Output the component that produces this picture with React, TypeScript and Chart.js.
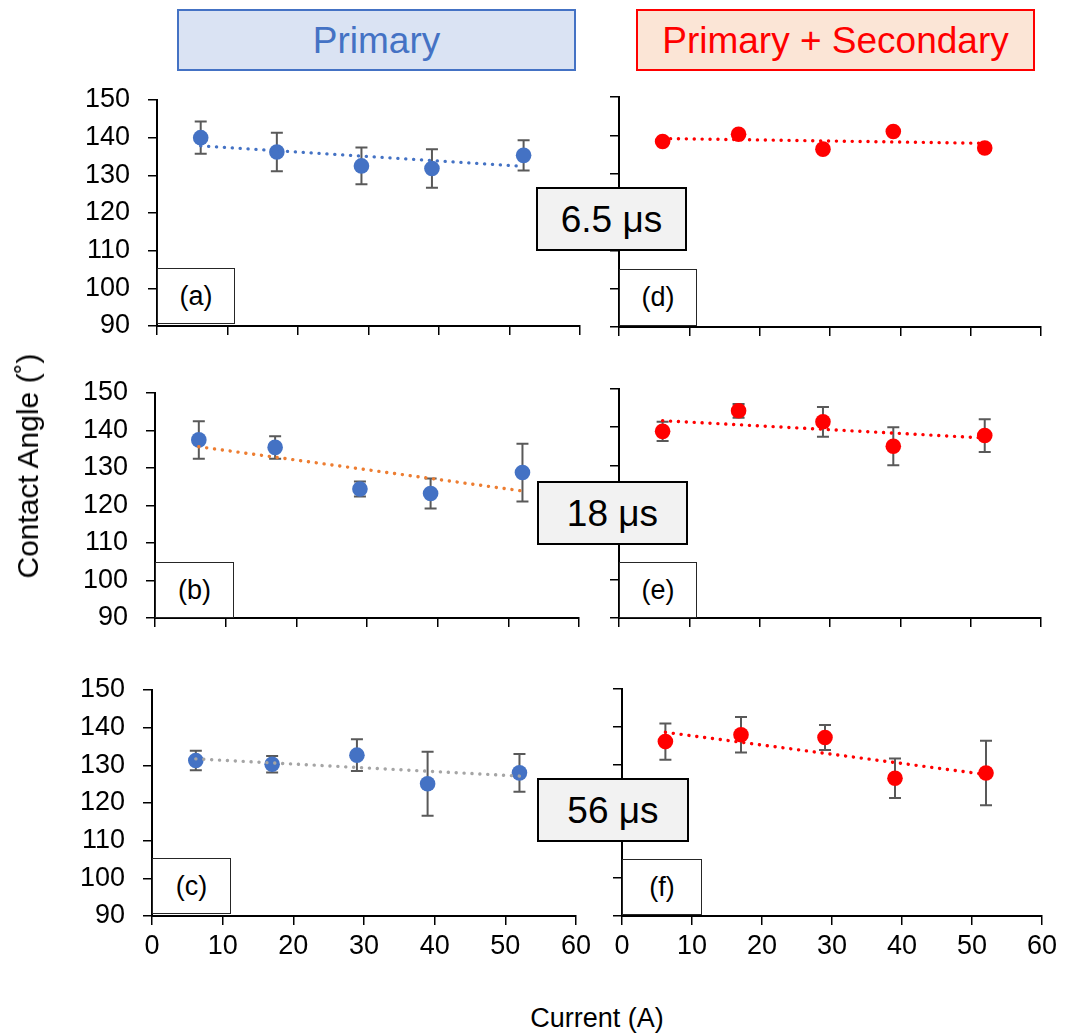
import React, { useEffect, useRef } from "react";
import { Chart, registerables } from "chart.js";

Chart.register(...registerables);

// ---------------- data ----------------
const currentA: number[] = [6.2, 17, 29, 39, 52];
const xTickValues: number[] = [0, 10, 20, 30, 40, 50, 60];
const yTickValues: number[] = [90, 100, 110, 120, 130, 140, 150];

// Primary (left column)
const angleA: number[] = [140.0, 136.2, 132.5, 131.8, 135.3];
const errA: number[] = [4.3, 5.1, 4.9, 5.1, 4.0];
const angleB: number[] = [137.5, 135.5, 124.4, 123.2, 128.8];
const errB: number[] = [5.0, 3.0, 2.0, 4.0, 7.7];
const angleC: number[] = [131.3, 130.3, 132.7, 125.1, 128.0];
const errC: number[] = [2.6, 2.2, 4.2, 8.5, 5.0];
// Primary + Secondary (right column)
const angleD: number[] = [138.4, 140.3, 136.4, 141.0, 136.7];
const errD: number[] = [0.6, 0.6, 0.6, 0.6, 0.6];
const angleE: number[] = [138.9, 144.3, 141.4, 135.0, 137.8];
const errE: number[] = [2.5, 1.8, 3.9, 5.0, 4.3];
const angleF: number[] = [136.1, 137.9, 137.2, 126.4, 127.8];
const errF: number[] = [4.8, 4.7, 3.3, 5.2, 8.5];

const columnTitles: string[] = ["Primary", "Primary + Secondary"];
const pulseLabels: string[] = ["6.5 μs", "18 μs", "56 μs"];
const panelLetters: string[] = ["(a)", "(b)", "(c)", "(d)", "(e)", "(f)"];
const yAxisTitle = "Contact Angle (˚)";
const xAxisTitle = "Current (A)";

// ---------------- styles / layout ----------------
const FONT = "'Liberation Sans', Arial, Helvetica, sans-serif";
const BLUE = "#4472C4";
const ORANGE = "#ED7D31";
const GRAY = "#A5A5A5";
const RED = "#FF0000";
const ERR_COLOR = "#595959";
const TICK_SIZE = 27;

type Rect = { l: number; t: number; r: number; b: number };

const panelSeries = [
  { values: angleA, errors: errA, marker: BLUE, trend: BLUE },
  { values: angleB, errors: errB, marker: BLUE, trend: ORANGE },
  { values: angleC, errors: errC, marker: BLUE, trend: GRAY },
  { values: angleD, errors: errD, marker: RED, trend: RED },
  { values: angleE, errors: errE, marker: RED, trend: RED },
  { values: angleF, errors: errF, marker: RED, trend: RED },
];

const plotRects: Rect[] = [
  { l: 157, t: 100, r: 580, b: 326 },
  { l: 155, t: 393, r: 579, b: 618 },
  { l: 152, t: 690, r: 576, b: 916 },
  { l: 619, t: 97, r: 1041, b: 327 },
  { l: 619, t: 389, r: 1041, b: 618 },
  { l: 622, t: 689, r: 1042, b: 916 },
];

const letterBoxes: Rect[] = [
  { l: 157, t: 268, r: 235, b: 324 },
  { l: 155, t: 562, r: 234, b: 618 },
  { l: 152, t: 858, r: 231, b: 914 },
  { l: 619, t: 269, r: 697, b: 326 },
  { l: 619, t: 562, r: 697, b: 618 },
  { l: 622, t: 859, r: 702, b: 915 },
];

const pulseBoxes: Rect[] = [
  { l: 536, t: 187, r: 687, b: 251 },
  { l: 537, t: 481, r: 688, b: 545 },
  { l: 537, t: 778, r: 689, b: 842 },
];

const TOP_PAD = 20;
const RIGHT_PAD = 25;

function linearFit(xs: number[], ys: number[]) {
  const n = xs.length;
  const mx = xs.reduce((a, b) => a + b, 0) / n;
  const my = ys.reduce((a, b) => a + b, 0) / n;
  let sxy = 0;
  let sxx = 0;
  for (let i = 0; i < n; i++) {
    sxy += (xs[i] - mx) * (ys[i] - my);
    sxx += (xs[i] - mx) * (xs[i] - mx);
  }
  const slope = sxy / sxx;
  return (x: number) => my + slope * (x - mx);
}

const errorBarPlugin = {
  id: "errorBars",
  beforeDatasetsDraw(chart: any) {
    const ctx = chart.ctx;
    const xs = chart.scales.x;
    const ys = chart.scales.y;
    chart.data.datasets.forEach((ds: any) => {
      if (!ds.errorValues) return;
      ds.data.forEach((p: any, i: number) => {
        const e = ds.errorValues[i];
        const px = xs.getPixelForValue(p.x);
        const top = ys.getPixelForValue(p.y + e);
        const bot = ys.getPixelForValue(p.y - e);
        ctx.save();
        ctx.strokeStyle = ERR_COLOR;
        ctx.lineWidth = 2;
        ctx.beginPath();
        ctx.moveTo(px, top);
        ctx.lineTo(px, bot);
        ctx.moveTo(px - 6, top);
        ctx.lineTo(px + 6, top);
        ctx.moveTo(px - 6, bot);
        ctx.lineTo(px + 6, bot);
        ctx.stroke();
        ctx.restore();
      });
    });
  },
};

function zeroPadding(sc: any) {
  sc.paddingTop = 0;
  sc.paddingBottom = 0;
  sc.paddingLeft = 0;
  sc.paddingRight = 0;
}

function Panel({ idx }: { idx: number }) {
  const ref = useRef<HTMLCanvasElement>(null);
  const rect = plotRects[idx];
  const isLeft = idx < 3;
  const isBottom = idx % 3 === 2;
  const canvasLeft = isLeft ? 40 : 600;
  const canvasTop = rect.t - TOP_PAD;
  const yAxisW = rect.l - canvasLeft;
  const xAxisH = isBottom ? 60 : 20;
  const width = rect.r + RIGHT_PAD - canvasLeft;
  const height = TOP_PAD + (rect.b - rect.t) + xAxisH;

  useEffect(() => {
    const s = panelSeries[idx];
    const fit = linearFit(currentA, s.values);
    const x0 = currentA[0];
    const x1 = currentA[currentA.length - 1];
    const chart = new Chart(ref.current as HTMLCanvasElement, {
      type: "scatter",
      data: {
        datasets: [
          {
            type: "line",
            data: [
              { x: x0, y: fit(x0) },
              { x: x1, y: fit(x1) },
            ],
            borderColor: s.trend,
            borderWidth: 3.4,
            borderDash: [0.1, 7.8],
            borderCapStyle: "round",
            pointRadius: 0,
            showLine: true,
            fill: false,
          } as any,
          {
            data: currentA.map((x, i) => ({ x, y: s.values[i] })),
            errorValues: s.errors,
            backgroundColor: s.marker,
            pointBackgroundColor: s.marker,
            pointBorderWidth: 0,
            pointRadius: 7.8,
            pointHoverRadius: 7.8,
          } as any,
        ],
      },
      options: {
        responsive: false,
        animation: false,
        devicePixelRatio: 1,
        events: [],
        layout: { padding: { top: TOP_PAD, right: RIGHT_PAD, left: 0, bottom: 0 } },
        plugins: { legend: { display: false }, tooltip: { enabled: false } },
        scales: {
          x: {
            type: "linear",
            min: xTickValues[0],
            max: xTickValues[xTickValues.length - 1],
            ticks: {
              stepSize: xTickValues[1] - xTickValues[0],
              color: isBottom ? "#000" : "rgba(0,0,0,0)",
              font: { family: FONT, size: TICK_SIZE },
              padding: 5,
              maxRotation: 0,
              autoSkip: false,
            },
            grid: { drawOnChartArea: false, drawTicks: true, tickLength: 9, color: "#000", lineWidth: 1.5 },
            border: { display: true, color: "#000", width: 2 },
            afterFit: (sc: any) => {
              sc.height = xAxisH;
              zeroPadding(sc);
            },
          },
          y: {
            type: "linear",
            min: yTickValues[0],
            max: yTickValues[yTickValues.length - 1],
            ticks: {
              stepSize: yTickValues[1] - yTickValues[0],
              color: isLeft ? "#000" : "rgba(0,0,0,0)",
              font: { family: FONT, size: TICK_SIZE },
              padding: 18,
            },
            grid: { drawOnChartArea: false, drawTicks: true, tickLength: 9, color: "#000", lineWidth: 1.5 },
            border: { display: true, color: "#000", width: 2 },
            afterFit: (sc: any) => {
              sc.width = yAxisW;
              zeroPadding(sc);
            },
          },
        },
      } as any,
      plugins: [errorBarPlugin],
    });
    return () => chart.destroy();
  }, []);

  return (
    <canvas
      ref={ref}
      width={width}
      height={height}
      style={{ position: "absolute", left: canvasLeft, top: canvasTop, width, height }}
    />
  );
}

function Box({ r, bg, border, color, size, text, bw }: { r: Rect; bg: string; border: string; color: string; size: number; text: string; bw: number }) {
  return (
    <div
      style={{
        position: "absolute",
        left: r.l,
        top: r.t,
        width: r.r - r.l,
        height: r.b - r.t,
        boxSizing: "border-box",
        border: `${bw}px solid ${border}`,
        background: bg,
        color,
        fontFamily: FONT,
        fontSize: size,
        lineHeight: 1,
        display: "flex",
        alignItems: "center",
        justifyContent: "center",
        whiteSpace: "nowrap",
        zIndex: 2,
      }}
    >
      {text}
    </div>
  );
}

export default function App() {
  return (
    <div
      style={{
        position: "absolute",
        left: 0,
        top: 0,
        width: 1065,
        height: 1036,
        background: "#fff",
        overflow: "hidden",
      }}
    >
      {plotRects.map((_, i) => (
        <Panel key={i} idx={i} />
      ))}

      <Box r={{ l: 177, t: 9, r: 576, b: 71 }} bg="#DAE3F3" border={BLUE} color={BLUE} size={37} text={columnTitles[0]} bw={2} />
      <Box r={{ l: 636, t: 9, r: 1035, b: 71 }} bg="#FBE5D6" border={RED} color={RED} size={37} text={columnTitles[1]} bw={2} />

      {pulseBoxes.map((r, i) => (
        <Box key={"p" + i} r={r} bg="#F2F2F2" border="#000" color="#000" size={37} text={pulseLabels[i]} bw={2} />
      ))}

      {letterBoxes.map((r, i) => (
        <Box key={"l" + i} r={r} bg="#FFFFFF" border="#262626" color="#000" size={27} text={panelLetters[i]} bw={1} />
      ))}

      <div
        style={{
          position: "absolute",
          left: 28,
          top: 466,
          transform: "translate(-50%, -50%) rotate(-90deg)",
          fontFamily: FONT,
          fontSize: 30,
          lineHeight: 1,
          whiteSpace: "nowrap",
          color: "#000",
        }}
      >
        {yAxisTitle}
      </div>
      <div
        style={{
          position: "absolute",
          left: 597,
          top: 1018,
          transform: "translate(-50%, -50%)",
          fontFamily: FONT,
          fontSize: 27,
          lineHeight: 1,
          whiteSpace: "nowrap",
          color: "#000",
        }}
      >
        {xAxisTitle}
      </div>
    </div>
  );
}
